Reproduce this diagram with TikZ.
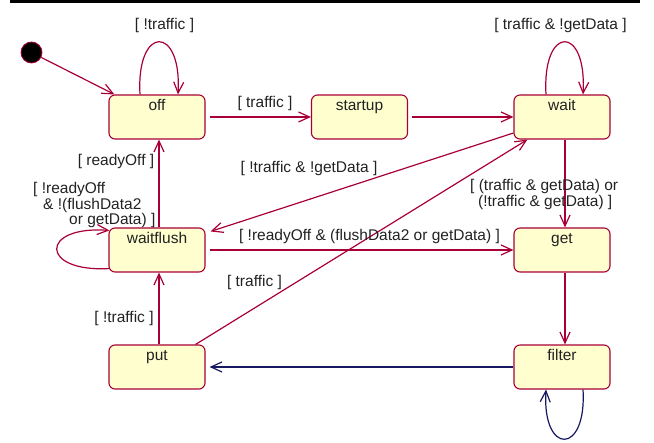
\documentclass[tikz,border=0pt]{standalone}
\usepackage{fontspec}
\setmainfont{Liberation Sans}
\usetikzlibrary{arrows.meta}
\definecolor{crim}{HTML}{A80036}
\definecolor{navyc}{HTML}{181860}
\definecolor{boxfill}{HTML}{FEFECE}
\definecolor{txt}{HTML}{222222}
\newcommand\lblfont{\fontsize{15.5}{13.8}\selectfont}
\begin{document}
\begin{tikzpicture}[x=1pt,y=-1pt,
  state/.style={draw=crim, fill=boxfill, line width=1.1pt, rounded corners=6pt,
    minimum width=96pt, inner xsep=0pt, inner ysep=0pt, text height=16pt,
    text depth=28pt, text=txt, font=\lblfont},
  tr/.style={draw=crim, line width=1.2pt, -{Straight Barb[length=11pt,width=10pt]}},
  trn/.style={tr, draw=navyc},
  lbl/.style={text=txt, inner sep=0pt, font=\lblfont, anchor=base}]
\useasboundingbox (0,0) rectangle (654,443);
\draw[line width=2.6pt] (10,1.5) -- (640,1.5);

\node[circle, fill=black, draw=crim, line width=0.8pt, minimum size=21pt, inner sep=0pt] (init) at (31.5,52.5) {};
\node[state] (off) at (157,117) {off};
\node[state] (startup) at (359.5,117) {startup};
\node[state] (wait) at (562,117) {wait};
\node[state] (waitflush) at (157,250) {waitflush};
\node[state] (get) at (562,250) {get};
\node[state] (put) at (157,367) {put};
\node[state] (filter) at (562,367) {filter};

\draw[tr] (init) -- ([xshift=6pt]off.north west);
\draw[tr] ([xshift=-17pt]off.north) .. controls +(-4,-70) and +(4,-70) .. ([xshift=21pt]off.north);
\draw[tr] ([xshift=4pt]off.east) -- (startup.west);
\draw[tr] ([xshift=4pt]startup.east) -- (wait.west);
\draw[tr] ([xshift=-16pt]wait.north) .. controls +(-4,-70) and +(4,-70) .. ([xshift=21pt]wait.north);
\draw[tr] ([xshift=3pt]wait.south) -- ([xshift=3pt]get.north);
\draw[tr] ([yshift=-16pt]wait.west) -- ([xshift=5pt,yshift=-4pt]waitflush.north east);
\draw[tr] ([xshift=4pt]waitflush.east) -- (get.west);
\draw[tr] ([xshift=2pt]waitflush.north) -- ([xshift=2pt]off.south);
\draw[tr] ([xshift=1pt,yshift=4pt]waitflush.south west) .. controls +(-70,4) and +(-70,-5) .. ([xshift=1pt,yshift=-3pt]waitflush.north west);
\draw[tr] ([xshift=2pt]put.north) -- ([xshift=2pt]waitflush.south);
\draw[tr] ([xshift=-10pt]put.north east) -- ([xshift=14pt]wait.south west);
\draw[tr] ([xshift=3pt]get.south) -- ([xshift=3pt]filter.north);
\draw[trn] (filter.west) -- ([xshift=4pt]put.east);
\draw[trn] ([xshift=21pt]filter.south) .. controls +(4,66) and +(-4,66) .. ([xshift=-16pt]filter.south);

\node[lbl] (l1) at (164.5,30) {[ !traffic ]};
\node[lbl] (l2) at (265,108) {[ traffic ]};
\node[lbl] (l3) at (560.5,30) {[ traffic \& !getData ]};
\node[lbl] (l4) at (309,173) {[ !traffic \& !getData ]};
\node[lbl] (l5) at (116,166) {[ readyOff ]};
\node[lbl, anchor=base west] (l6) at (33,194) {\begin{tabular}[t]{@{}l@{}}[ !readyOff\\\hspace*{10pt}\& !(flushData2\\\hspace*{36pt}or getData) ]\end{tabular}};
\node[lbl] (l7) at (369.5,241) {[ !readyOff \& (flushData2 or getData) ]};
\node[lbl, anchor=base west] (l8) at (470,191) {\begin{tabular}[t]{@{}l@{}}[ (traffic \& getData) or\\\hspace*{8pt}(!traffic \& getData) ]\end{tabular}};
\node[lbl] (l9) at (254.5,287) {[ traffic ]};
\node[lbl] (l10) at (124,323) {[ !traffic ]};
\end{tikzpicture}
\end{document}
